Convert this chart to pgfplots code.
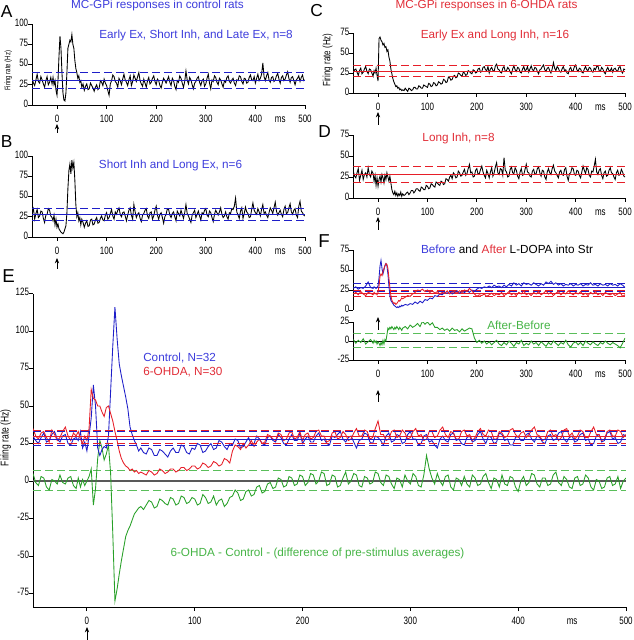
\documentclass[border=0pt]{standalone}
\usepackage{pgfplots}
\pgfplotsset{compat=1.18}
\usepackage{pgfplotstable}
\usepackage{fontspec}
\setmainfont{Liberation Sans}
\newfontfamily\narrow[FakeStretch=0.75]{Liberation Sans}
\usetikzlibrary{arrows.meta}
\definecolor{ublue}{RGB}{30,30,200}
\definecolor{ured}{RGB}{230,30,40}
\definecolor{ugreen}{RGB}{40,160,40}
\definecolor{tblue}{RGB}{60,60,220}
\definecolor{tred}{RGB}{225,45,55}
\definecolor{tgreen}{RGB}{70,180,70}
\definecolor{lgreen}{RGB}{90,190,90}

% Dense traces: panels A-D and E
\pgfplotstableread{
x A B C D Eb Er Eg
-50 33 30 25 32 30 35 5
-47.5 27 35 29 26 27 30 -1
-45 24 22 30 24 25 28 -3
-42.5 31 29 26 30 29 32 3
-40 38 34 22 35 32 33 2
-37.5 29 24 28 21 26 29 -4
-35 27 26 31 27 27 26 -6
-32.5 35 32 24 33 31 34 1
-30 31 31 26 22 33 31 0
-27.5 26 23 30 28 28 27 -2
-25 22 18 33 30 26 29 4
-22.5 30 27 27 25 30 33 -1
-20 35 28 24 36 31 36 -2
-17.5 25 35 30 28 25 30 2
-15 28 33 29 25 24 27 3
-12.5 34 26 25 32 28 32 -3
-10 26 24 21 29 29 30 -5
-8 34 20 28 20 27 33 2
-6 25 27 25 27 33 28 -4
-4 30 15 31 15 22 25 1
-2 18 22 22 24 26 30 -3
0 12 12 15 14 20 27 0
2 30 16 68 22 30 35 3
4 60 10 70 26 42 61 8
6 85 8 66 19 64 55 -16
8 70 6 64 28 50 54 -5
10 40 5 60 24 22 50 15
12 15 4 62 18 17 50 27
14 6 6 57 27 21 46 22
16 5 10 58 22 23 43 14
18 15 14 52 30 22 49 18
20 40 30 54 25 30 50 24
22 70 60 45 20 60 45 5
24 75 82 40 26 90 40 -35
26 80 90 30 18 116 33 -80
28 78 78 24 10 95 27 -72
30 87 95 18 6 78 20 -62
32 75 85 14 4 70 15 -53
34 70 92 11 8 63 12 -45
36 55 70 8 3 56 10 -37
38 45 40 9 6 48 9 -33
40 40 25 6 2 36 7 -30
42 33 30 7 5 31 8 -26
44 36 20 4 3 27 6 -22
46 28 24 5 7 24 7 -20
48 30 15 3 2 20 5 -18
50 22 22 4 5 22 6 -17
52.5 26 18 3 3 19 5 -19
55 18 12 6 4 18 4 -16
57.5 23 17 4 6 22 7 -13
60 26 20 2 7 21 6 -14
62.5 19 13 6 4 17 4 -18
65 20 14 5 6 17 5 -17
67.5 27 21 3 9 21 8 -12
70 24 22 4 9 20 7 -13
72.5 21 15 7 6 18 5 -15
75 17 16 7 8 16 6 -16
77.5 22 21 5 11 20 8 -11
80 25 24 5 11 22 8 -12
82.5 19 17 9 9 19 6 -16
85 21 18 8 8 19 7 -15
87.5 30 23 6 13 24 9 -10
90 28 26 6 12 23 9 -11
92.5 24 21 10 10 19 7 -15
95 32 20 9 10 18 8 -14
97.5 27 27 8 15 22 10 -11
100 24 30 7 14 21 10 -12
102.5 18 22 12 11 25 8 -16
105 12 24 11 12 24 9 -15
107.5 26 29 8 17 19 12 -9
110 30 34 9 16 20 11 -11
112.5 37 26 13 14 23 9 -15
115 35 22 12 13 25 10 -14
117.5 29 31 9 19 21 13 -10
120 27 28 10 18 22 12 -16
122.5 22 33 14 16 27 10 -13
125 33 36 13 15 26 11 -12
127.5 30 28 11 20 23 15 -17
130 25 25 12 19 21 14 -15
132.5 32 30 17 16 25 12 -11
135 38 31 16 17 24 20 -10
137.5 31 26 13 23 28 24 -6
140 28 20 14 22 27 23 -8
142.5 24 27 20 20 22 21 -13
145 31 33 19 25 23 25 -12
147.5 36 36 16 27 26 22 -7
150 24 27 17 23 29 24 -6
152.5 29 22 21 30 24 27 -10
155 37 40 22 28 25 23 -9
157.5 33 31 19 24 30 26 -4
160 29 24 20 25 28 28 -3
162.5 35 28 25 32 25 25 -8
165 40 30 24 30 24 26 -7
167.5 30 23 22 26 29 31 -2
170 26 19 21 27 30 30 -1
172.5 23 27 26 31 27 28 -5
175 32 29 25 34 26 27 -4
177.5 27 33 22 27 31 32 2
180 22 35 23 29 29 31 1
182.5 30 26 28 35 25 27 -4
185 34 23 27 40 24 28 -3
187.5 26 30 25 30 28 32 3
190 28 31 24 31 31 33 2
192.5 33 22 29 25 27 28 -3
195 36 26 28 26 27 29 -2
197.5 29 33 25 33 32 33 4
200 25 38 26 35 25 27 3
202.5 32 27 30 28 28 31 -3
205 30 22 31 29 30 32 -1
207.5 24 28 26 34 26 28 5
210 21 30 27 38 26 29 4
212.5 28 24 32 31 30 33 -2
215 33 17 33 27 32 34 0
217.5 30 25 29 24 27 30 6
220 27 28 28 33 28 30 5
222.5 31 35 33 29 25 26 -3
225 35 34 25 24 24 27 -2
227.5 28 27 30 31 30 32 4
230 24 24 32 36 29 33 3
232.5 33 29 28 26 31 28 -4
235 30 31 27 30 33 29 -3
237.5 23 25 34 37 28 33 2
240 19 20 36 42 26 31 6
242.5 30 32 30 30 29 27 -2
245 28 29 29 28 30 28 0
247.5 36 26 26 35 26 32 5
250 33 33 25 34 22 35 4
252.5 27 28 31 27 27 30 -3
255 22 23 33 48 28 30 -4
257.5 29 30 27 33 32 34 3
260 42 40 28 31 31 33 2
262.5 31 29 32 25 26 28 -2
265 26 26 30 26 25 29 -1
267.5 34 22 26 34 30 35 6
270 31 18 24 37 29 40 5
272.5 25 27 30 30 27 31 -1
275 20 30 34 29 24 31 -3
277.5 27 33 29 36 30 27 4
280 29 24 27 33 32 28 3
282.5 33 28 32 26 26 33 -2
285 35 32 31 23 27 34 -5
287.5 28 26 26 31 31 29 2
290 24 21 25 35 30 30 1
292.5 30 30 30 27 25 34 -4
295 32 28 33 28 26 32 4
297.5 23 33 28 34 31 28 0
300 26 35 29 40 33 29 -2
302.5 33 27 33 31 28 33 5
305 38 25 26 30 28 35 3
307.5 27 32 30 26 24 30 -3
310 20 30 34 25 25 31 -4
312.5 31 24 29 32 30 27 4
315 29 19 28 34 31 28 17
317.5 36 28 32 28 26 33 8
320 34 33 31 29 27 33 2
322.5 28 30 27 35 24 29 -2
325 25 27 24 37 22 30 5
327.5 33 31 29 30 28 34 0
330 31 36 30 26 30 36 -3
332.5 26 28 33 33 27 31 3
335 22 24 35 32 26 29 4
337.5 30 26 29 25 31 33 -4
340 28 31 27 22 32 32 -6
342.5 34 25 31 31 27 28 2
345 36 22 32 35 28 28 1
347.5 29 30 28 30 25 33 -3
350 27 29 25 28 24 34 3
352.5 31 35 30 35 29 30 -2
355 33 34 38 39 30 31 -4
357.5 27 38 31 32 26 27 4
360 24 48 28 30 27 29 2
362.5 31 31 33 27 31 33 -3
365 30 27 31 24 33 35 -2
367.5 36 23 27 31 28 31 3
370 35 32 26 33 25 30 5
372.5 29 36 30 28 30 34 -1
375 26 23 33 27 29 33 -5
377.5 33 29 28 34 25 28 2
380 32 37 29 36 26 28 1
382.5 27 31 25 26 32 33 -4
385 28 29 24 21 31 32 4
387.5 34 24 30 29 27 29 -2
390 37 25 32 30 28 30 -3
392.5 31 34 27 36 24 34 3
395 30 42 28 35 24 35 2
397.5 35 33 33 28 29 31 -4
400 27 30 35 27 30 29 -7
402.5 33 28 29 33 27 32 0
405 38 35 27 32 27 33 3
407.5 30 31 31 27 31 29 -3
410 33 26 30 24 32 31 -1
412.5 38 34 26 31 28 34 5
415 52 40 25 38 26 36 4
417.5 35 29 30 33 30 31 -2
420 30 31 33 29 29 30 -4
422.5 36 27 29 36 26 27 2
425 40 24 28 34 25 28 2
427.5 31 30 32 27 30 33 -3
430 28 36 31 25 31 34 -2
432.5 34 33 27 32 27 30 4
435 35 29 26 31 28 31 6
437.5 29 36 31 38 32 27 -1
440 31 43 29 46 33 29 -3
442.5 36 32 33 31 28 34 3
445 39 27 34 28 26 35 1
447.5 32 30 28 33 29 30 -4
450 27 33 27 35 30 32 -5
452.5 34 28 32 27 26 28 2
455 36 25 30 23 27 30 3
457.5 30 34 26 30 31 34 -3
460 32 38 24 32 32 33 -2
462.5 37 29 29 26 27 29 4
465 41 30 32 27 28 29 2
467.5 33 36 28 33 24 33 -4
470 28 41 28 36 25 36 -6
472.5 34 31 31 30 30 31 1
475 35 28 26 29 31 31 0
477.5 30 33 30 25 26 27 -5
480 25 35 31 22 27 28 -4
482.5 31 27 28 30 32 33 2
485 33 24 27 33 33 34 3
487.5 36 38 32 27 28 30 -3
490 29 44 33 28 29 30 -2
492.5 34 32 27 34 25 34 3
495 37 30 25 31 26 33 -5
497.5 30 27 30 26 31 29 0
500 31 26 29 25 30 31 2
}\dense

% Panel F traces
\pgfplotstableread{
x Fb Fr Fg
-50 27 20 2
-45 29 22 -3
-40 26 19 1
-35 28 23 -2
-30 27 20 3
-25 30 18 -4
-20 35 22 -1
-15 28 21 2
-10 27 19 -3
-8 29 22 1
-6 28 20 -2
-4 27 21 0
-2 28 19 -4
0 30 22 -1
2 40 30 -3
4 55 42 -6
6 62 45 -2
8 52 43 -5
10 45 48 1
12 50 52 -4
14 56 55 2
16 58 58 0
18 55 57 8
20 45 52 17
22 30 40 15
24 18 28 18
26 12 18 16
28 10 12 19
30 8 10 17
32 6 8 15
34 5 9 18
36 4 7 16
38 3 8 19
40 4 10 17
42 3 12 15
44 5 11 18
46 4 13 16
48 6 15 14
50 5 14 17
55 7 16 19
60 6 18 16
65 8 17 21
70 7 20 18
75 10 22 20
80 8 25 23
85 11 24 19
90 9 26 26
95 13 23 22
100 12 25 25
105 15 22 21
110 14 24 24
115 18 21 18
120 17 23 18
125 20 20 15
130 19 22 17
135 22 21 14
140 21 24 16
145 23 20 13
150 20 22 17
155 22 23 14
160 24 21 15
165 21 24 12
170 23 22 16
175 22 25 13
180 24 23 15
185 22 27 17
190 25 24 16
195 23 20 4
200 26 17 -2
205 28 19 1
210 27 18 -3
215 29 20 0
220 28 17 -4
225 30 19 -1
230 28 21 -5
235 31 18 -2
240 29 20 1
245 30 19 -4
250 28 22 -6
255 31 18 -2
260 29 20 -5
265 32 23 0
270 30 19 -3
275 34 21 -7
280 31 18 -2
285 33 22 -4
290 30 20 1
295 34 24 -6
300 32 19 -3
305 33 21 -5
310 31 18 0
315 34 22 -4
320 32 20 -2
325 30 23 -6
330 33 19 -1
335 31 21 -4
340 35 24 -7
345 33 20 -2
350 36 22 -5
355 32 18 0
360 34 21 -3
365 31 23 -6
370 33 19 -2
375 30 22 -4
380 32 20 1
385 31 24 -5
390 33 21 -8
395 30 19 -3
400 32 22 -1
405 31 20 -5
410 33 23 -2
415 30 19 -6
420 32 21 0
425 31 18 -3
430 34 22 -5
435 31 20 -1
440 32 23 -4
445 30 19 -6
450 33 21 -2
455 31 18 -4
460 32 22 0
465 30 20 -3
470 33 19 -5
475 31 21 -2
480 32 18 -4
485 30 20 -6
490 33 22 -9
495 31 17 -3
500 28 19 4
}\fdata

\pgfplotsset{
  panel/.style={
    scale only axis, axis lines=left, axis line style={-, line width=0.7pt},
    tick align=outside, major tick length=3pt,
    every tick/.style={black, line width=0.7pt},
    xmin=-50, xmax=500, xtick={0,100,200,300,400,500},
    xticklabels={0,100,200,300,400,500},
    extra x ticks={450}, extra x tick labels={ms},
    extra x tick style={major tick style={draw=none}},
    tick label style={font=\narrow\fontsize{8}{9}\selectfont},
    yticklabel style={xshift=3.5pt},
    typeset ticklabels with strut,
  },
  ylab/.style n args={3}{ylabel={Firing rate (Hz)},
    every axis y label/.style={at={(axis description cs:#1,#2)}, rotate=90, anchor=center,
      inner sep=0pt, font=\narrow\fontsize{#3}{#3}\selectfont}},
  trace/.style={line width=0.65pt, black},
  ref/.style={line width=0.7pt},
  dref/.style={line width=0.7pt, dash pattern=on 6pt off 3pt},
}

\begin{document}
\begin{tikzpicture}
\useasboundingbox (0,0) rectangle (474.75pt,480pt);

% Panel A
\begin{axis}[panel, at={(24.15pt,401.25pt)}, anchor=south west,
  width=204.6pt, height=60.75pt, ymin=0, ymax=100,
  ytick={0,25,50,75,100}, yticklabels={0,25,50,75,100},
  ylab={-0.088}{0.42}{6}]
\addplot[trace] table[x=x,y=A]{\dense};
\addplot[ref, ublue] coordinates {(-50,30) (500,30)};
\addplot[dref, ublue] coordinates {(-50,40) (500,40)};
\addplot[dref, ublue] coordinates {(-50,20) (500,20)};
\end{axis}

% Panel B
\begin{axis}[panel, at={(24.15pt,302.25pt)}, anchor=south west,
  width=204.6pt, height=60.75pt, ymin=0, ymax=100,
  ytick={0,25,50,75,100}, yticklabels={0,25,50,75,100}]
\addplot[trace] table[x=x,y=B]{\dense};
\addplot[ref, ublue] coordinates {(-50,28) (500,28)};
\addplot[dref, ublue] coordinates {(-50,35) (500,35)};
\addplot[dref, ublue] coordinates {(-50,21) (500,21)};
\end{axis}

% Panel C
\begin{axis}[panel, at={(265pt,410.25pt)}, anchor=south west,
  width=203.8pt, height=45pt, ymin=0, ymax=75,
  ytick={0,25,50,75}, yticklabels={0,25,50,75},
  ylab={-0.095}{0.55}{8}]
\addplot[trace] table[x=x,y=C]{\dense};
\addplot[ref, ured] coordinates {(-50,27.5) (500,27.5)};
\addplot[dref, ured] coordinates {(-50,34) (500,34)};
\addplot[dref, ured] coordinates {(-50,21) (500,21)};
\end{axis}

% Panel D
\begin{axis}[panel, at={(265pt,331.5pt)}, anchor=south west,
  width=203.8pt, height=47.25pt, ymin=0, ymax=75,
  ytick={0,25,50,75}, yticklabels={0,25,50,75}]
\addplot[trace] table[x=x,y=D]{\dense};
\addplot[ref, ured] coordinates {(-50,28) (500,28)};
\addplot[dref, ured] coordinates {(-50,38) (500,38)};
\addplot[dref, ured] coordinates {(-50,18) (500,18)};
\end{axis}

% Panel F top
\begin{axis}[panel, at={(265pt,247.5pt)}, anchor=south west,
  width=203.8pt, height=45pt, ymin=0, ymax=75,
  axis x line=none, extra x ticks={},
  ytick={0,25,50,75}, yticklabels={0,25,50,75}]
\addplot[dref, ublue] coordinates {(-50,33) (500,33)};
\addplot[dref, ublue] coordinates {(-50,23.5) (500,23.5)};
\addplot[ref, ublue] coordinates {(-50,28) (500,28)};
\addplot[dref, ured] coordinates {(-50,24.5) (500,24.5)};
\addplot[dref, ured] coordinates {(-50,17.5) (500,17.5)};
\addplot[ref, ured] coordinates {(-50,21) (500,21)};
\addplot[line width=0.65pt, ublue] table[x=x,y=Fb]{\fdata};
\addplot[line width=0.65pt, ured] table[x=x,y=Fr]{\fdata};
\end{axis}

% Panel F bottom
\begin{axis}[panel, at={(265pt,210pt)}, anchor=south west,
  width=203.8pt, height=28.5pt, ymin=-25, ymax=25,
  ytick={-25,0,25}, yticklabels={-25,0,25}]
\addplot[ref, black] coordinates {(-50,0) (500,0)};
\addplot[dref, lgreen] coordinates {(-50,10) (500,10)};
\addplot[dref, lgreen] coordinates {(-50,-8) (500,-8)};
\addplot[line width=0.65pt, ugreen] table[x=x,y=Fg]{\fdata};
\end{axis}

% Panel E
\begin{axis}[panel, at={(24.75pt,24.75pt)}, anchor=south west,
  width=444.75pt, height=235.1pt, ymin=-84, ymax=125,
  ytick={-75,-50,-25,0,25,50,75,100,125},
  yticklabels={-75,-50,-25,0,25,50,75,100,125},
  ylab={-0.046}{0.54}{8.5}]
\addplot[line width=1pt, black!65] coordinates {(-50,0) (500,0)};
\addplot[dref, lgreen] coordinates {(-50,6.7) (500,6.7)};
\addplot[dref, lgreen] coordinates {(-50,-6.5) (500,-6.5)};
\addplot[line width=0.65pt, ugreen] table[x=x,y=Eg]{\dense};
\addplot[line width=0.65pt, ublue] table[x=x,y=Eb]{\dense};
\addplot[line width=0.65pt, ured] table[x=x,y=Er]{\dense};
\addplot[dref, ured] coordinates {(-50,34) (500,34)};
\addplot[dref, ured] coordinates {(-50,25) (500,25)};
\addplot[ref, ured] coordinates {(-50,29.6) (500,29.6)};
\addplot[dref, ublue] coordinates {(-50,33) (500,33)};
\addplot[dref, ublue] coordinates {(-50,23.5) (500,23.5)};
\addplot[ref, ublue] coordinates {(-50,28) (500,28)};
\end{axis}

% Panel letters
\begin{scope}[every node/.style={inner sep=0pt, font=\fontsize{13}{13}\selectfont}]
\node[anchor=base west] at (0.5pt,466.5pt) {A};
\node[anchor=base west] at (0.5pt,369pt) {B};
\node[anchor=base west] at (232.5pt,467.25pt) {C};
\node[anchor=base west] at (238.5pt,376.5pt) {D};
\node[anchor=base west, font=\fontsize{14}{14}\selectfont] at (238.5pt,294pt) {F};
\node[anchor=base west, font=\fontsize{14}{14}\selectfont] at (1.5pt,267.75pt) {E};
\end{scope}

% Annotations
\begin{scope}[every node/.style={inner sep=0pt, font=\fontsize{8.8}{10}\selectfont}]
\node[anchor=base, tblue] at (118.1pt,473.25pt) {MC-GPi responses in control rats};
\node[anchor=base, tblue] at (147pt,451.1pt) {Early Ex, Short Inh, and Late Ex, n=8};
\node[anchor=base, tblue] at (127.9pt,353.6pt) {Short Inh and Long Ex, n=6};
\node[anchor=base, tred] at (364.9pt,473.25pt) {MC-GPi responses in 6-OHDA rats};
\node[anchor=base, tred] at (371.25pt,451.1pt) {Early Ex and Long Inh, n=16};
\node[anchor=base, tred] at (343.9pt,373.5pt) {Long Inh, n=8};
\node[anchor=base] at (380.25pt,289.5pt) {\textcolor{tblue}{Before} and \textcolor{tred}{After} L-DOPA into Str};
\node[anchor=base, tgreen] at (389.25pt,232.5pt) {After-Before};
\node[anchor=base west, tblue] at (107.25pt,208.5pt) {Control, N=32};
\node[anchor=base west, tred] at (107.25pt,198pt) {6-OHDA, N=30};
\node[anchor=base, tgreen] at (238.1pt,62.25pt) {6-OHDA - Control - (difference of pre-stimulus averages)};
\end{scope}

% Stimulus arrows
\begin{scope}[line width=0.6pt, -{Stealth[length=4pt,width=3.2pt]}]
\draw (42.75pt,380.25pt) -- (42.75pt,387pt);
\draw (42.75pt,278.25pt) -- (42.75pt,286.5pt);
\draw (283.5pt,386.25pt) -- (283.5pt,396pt);
\draw (283.5pt,307.5pt) -- (283.5pt,317.25pt);
\draw (283.5pt,232.5pt) -- (283.5pt,242.25pt);
\draw (283.5pt,178.5pt) -- (283.5pt,187.5pt);
\draw (65.25pt,0.3pt) -- (65.25pt,9.75pt);
\end{scope}
\end{tikzpicture}
\end{document}
